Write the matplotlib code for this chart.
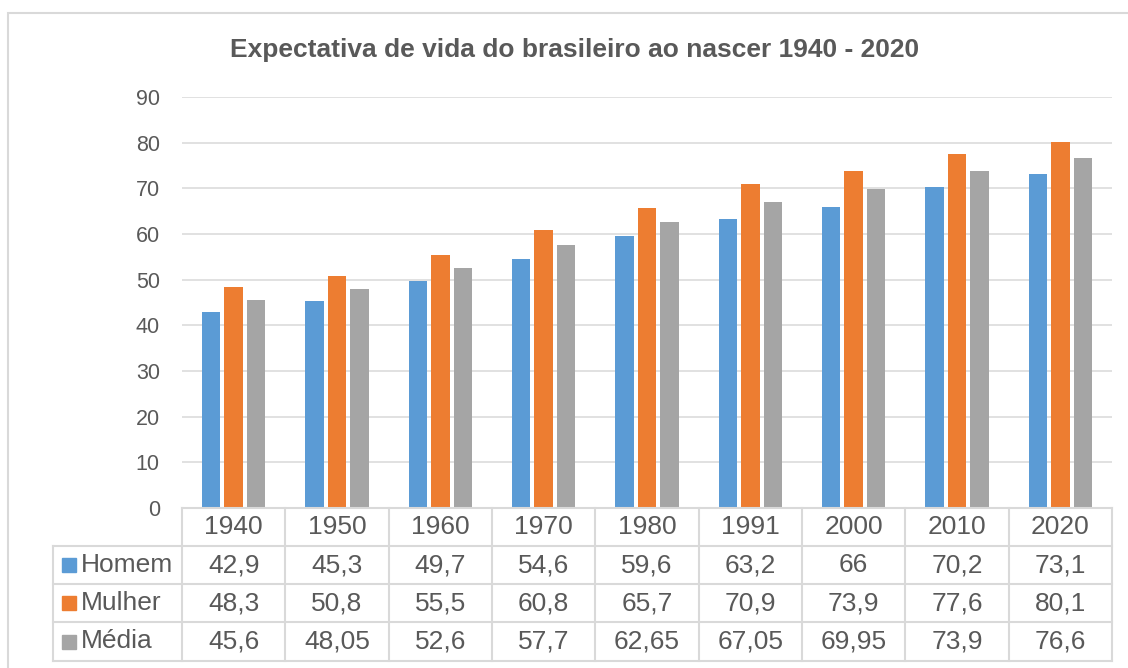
import matplotlib
matplotlib.use("Agg")
import matplotlib.pyplot as plt
import numpy as np
from matplotlib.lines import Line2D
from matplotlib.patches import Rectangle
from matplotlib.transforms import blended_transform_factory

plt.rcParams['font.family'] = ['Liberation Sans', 'DejaVu Sans']

# dados
anos = ['1940', '1950', '1960', '1970', '1980', '1991', '2000', '2010', '2020']
homem = [42.9, 45.3, 49.7, 54.6, 59.6, 63.2, 66, 70.2, 73.1]
mulher = [48.3, 50.8, 55.5, 60.8, 65.7, 70.9, 73.9, 77.6, 80.1]
media = [45.6, 48.05, 52.6, 57.7, 62.65, 67.05, 69.95, 73.9, 76.6]
series_nomes = ['Homem', 'Mulher', 'Média']
cores = ['#5B9BD5', '#ED7D31', '#A5A5A5']
titulo = 'Expectativa de vida do brasileiro ao nascer 1940 - 2020'

W, H = 1128, 668
texto = '#595959'
linha = '#D9D9D9'
fs_tab = 19

def fx(px):
    return px / W

def fy(py):
    return 1 - py / H

fig = plt.figure(figsize=(W / 100, H / 100), dpi=100)
ax = fig.add_axes([fx(182), fy(508), fx(1112) - fx(182), fy(97) - fy(508)])

x = np.arange(len(anos))
largura = 0.18
desloc = 0.218
for i, (vals, cor) in enumerate(zip([homem, mulher, media], cores)):
    ax.bar(x + (i - 1) * desloc, vals, width=largura, color=cor, zorder=3)

ax.set_xlim(-0.5, len(anos) - 0.5)
ax.set_ylim(0, 90)
ax.set_yticks(range(0, 91, 10))
ax.set_xticks([])
ax.grid(axis='y', color=linha, linewidth=1.1, zorder=0)
for s in ax.spines.values():
    s.set_visible(False)
ax.tick_params(axis='y', length=0, pad=16, labelsize=15.5, labelcolor=texto)

fig.text(fx(575), fy(50), titulo, ha='center', va='center', fontsize=19,
         fontweight='bold', color=texto)

# moldura do gráfico
fig.add_artist(Rectangle((fx(8), fy(700)), fx(1200), fy(13) - fy(700),
                         transform=fig.transFigure, fill=False,
                         edgecolor=linha, linewidth=1.5))

# tabela de dados
trans = blended_transform_factory(ax.transData, fig.transFigure)
linhas_y = [508, 546, 584, 622, 661]
x_esq = -0.5
x_dir = len(anos) - 0.5
leg_esq = 53

# linhas horizontais
fig.add_artist(Line2D([x_esq, x_dir], [fy(linhas_y[0])] * 2, transform=trans,
                      color=linha, lw=1.5))
for py in linhas_y[1:]:
    fig.add_artist(Line2D([fx(leg_esq), fx(1112)], [fy(py)] * 2,
                          transform=fig.transFigure, color=linha, lw=1.5))
# linhas verticais
for k in range(len(anos) + 1):
    fig.add_artist(Line2D([k - 0.5] * 2, [fy(linhas_y[0]), fy(linhas_y[-1])],
                          transform=trans, color=linha, lw=1.5))
fig.add_artist(Line2D([fx(leg_esq)] * 2, [fy(linhas_y[1]), fy(linhas_y[-1])],
                      transform=fig.transFigure, color=linha, lw=1.5))

def fmt(v):
    return ('%g' % v).replace('.', ',')

y_meio = [(a + b) / 2 for a, b in zip(linhas_y[:-1], linhas_y[1:])]
for k, ano in enumerate(anos):
    fig.text(k, fy(y_meio[0]), ano, transform=trans, ha='center', va='center',
             fontsize=fs_tab, color=texto)

for r, (nome, vals, cor) in enumerate(zip(series_nomes, [homem, mulher, media], cores)):
    yc = y_meio[r + 1]
    fig.add_artist(Rectangle((fx(62), fy(yc + 7)), fx(14), fy(yc - 7) - fy(yc + 7),
                             transform=fig.transFigure, color=cor))
    fig.text(fx(81), fy(yc), nome, ha='left', va='center', fontsize=fs_tab, color=texto)
    for k, v in enumerate(vals):
        fig.text(k, fy(yc), fmt(v), transform=trans, ha='center', va='center',
                 fontsize=fs_tab, color=texto)

fig.savefig('out.png', dpi=100)
